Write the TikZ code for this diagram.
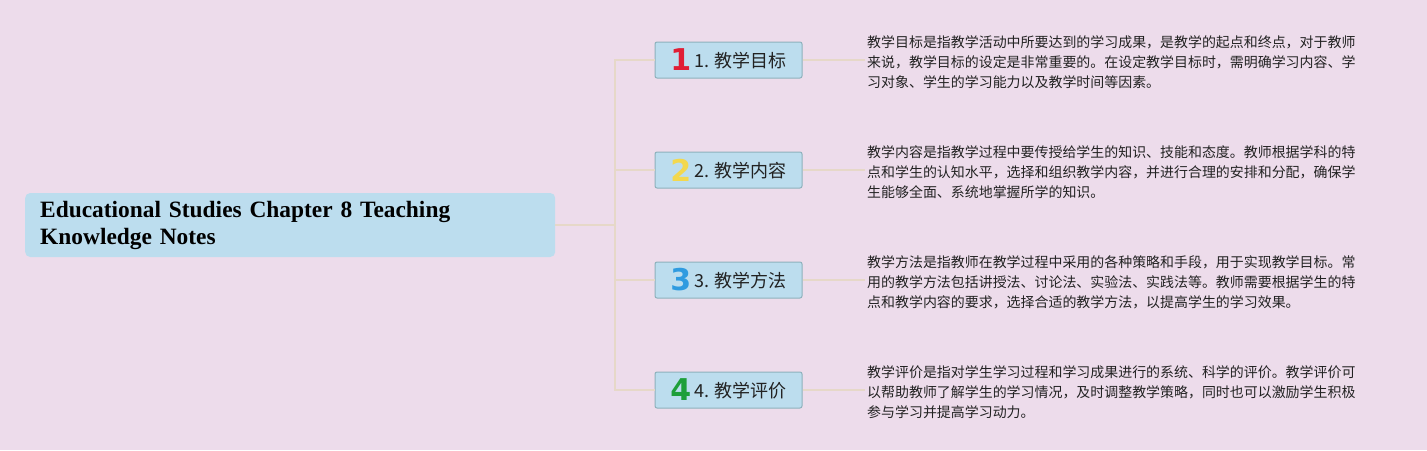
\documentclass[tikz,border=0pt]{standalone}
\usepackage{fontspec}
\setmainfont{Liberation Serif}
\newfontfamily\cjk{Noto Sans CJK SC}
\newfontfamily\digitf{DejaVu Sans}
\definecolor{bgc}{HTML}{EDDCEB}
\definecolor{boxfill}{HTML}{BCDDEE}
\definecolor{boxline}{HTML}{8DB1BC}
\definecolor{connc}{HTML}{E6D8C8}
\definecolor{numred}{HTML}{E01E35}
\definecolor{numyellow}{HTML}{F3D84E}
\definecolor{numblue}{HTML}{2F9BE0}
\definecolor{numgreen}{HTML}{1E9F3A}
\definecolor{txt}{HTML}{222222}
\newcommand{\rootfont}{\fontsize{23.4}{27}\selectfont\bfseries\spaceskip=0.22em plus 0.05em minus 0.05em\relax}
\tikzset{
  rootbox/.style={fill=boxfill, rounded corners=5pt, minimum width=530pt, minimum height=64pt, text width=500pt, align=left, inner xsep=15pt, anchor=west, font=\rootfont, text=black},
  topicbox/.style={fill=boxfill, draw=boxline, line width=1pt, rounded corners=2pt, minimum width=147pt, minimum height=36pt, inner sep=0pt, font=\cjk\fontsize{18}{20}\selectfont, text=txt},
  desc/.style={anchor=west, align=left, inner sep=2pt, font=\cjk\fontsize{13.95}{20}\selectfont, text=txt},
  conn/.style={draw=connc, line width=1.3pt}
}
\newcommand{\bignum}[2]{{\digitf\bfseries\fontsize{30}{30}\selectfont\raisebox{-3.5pt}{\textcolor{#1}{#2}}}\hspace{3pt}}
\begin{document}
\begin{tikzpicture}[x=1pt,y=-1pt]
\useasboundingbox[fill=bgc] (0,0) rectangle (1427,450);
\node[rootbox] (root) at (25,225) {\raisebox{-2.5pt}{Educational Studies Chapter 8 Teaching}\\[0pt]\raisebox{-2.5pt}{Knowledge Notes}};
\coordinate (hub) at (615,225);
\node[topicbox] (b1) at (728.5,60) {\bignum{numred}{1}1. 教学目标};
\node[topicbox] (b2) at (728.5,170) {\bignum{numyellow}{2}2. 教学内容};
\node[topicbox] (b3) at (728.5,280) {\bignum{numblue}{3}3. 教学方法};
\node[topicbox] (b4) at (728.5,390) {\bignum{numgreen}{4}4. 教学评价};
\node[desc] (d1) at (865,62) {教学目标是指教学活动中所要达到的学习成果，是教学的起点和终点，对于教师\\来说，教学目标的设定是非常重要的。在设定教学目标时，需明确学习内容、学\\习对象、学生的学习能力以及教学时间等因素。};
\node[desc] (d2) at (865,172) {教学内容是指教学过程中要传授给学生的知识、技能和态度。教师根据学科的特\\点和学生的认知水平，选择和组织教学内容，并进行合理的安排和分配，确保学\\生能够全面、系统地掌握所学的知识。};
\node[desc] (d3) at (865,282) {教学方法是指教师在教学过程中采用的各种策略和手段，用于实现教学目标。常\\用的教学方法包括讲授法、讨论法、实验法、实践法等。教师需要根据学生的特\\点和教学内容的要求，选择合适的教学方法，以提高学生的学习效果。};
\node[desc] (d4) at (865,392) {教学评价是指对学生学习过程和学习成果进行的系统、科学的评价。教学评价可\\以帮助教师了解学生的学习情况，及时调整教学策略，同时也可以激励学生积极\\参与学习并提高学习动力。};
\draw[conn] (root.east) -- (hub);
\draw[conn] (hub) |- (b1.west);
\draw[conn] (hub) |- (b2.west);
\draw[conn] (hub) |- (b3.west);
\draw[conn] (hub) |- (b4.west);
\draw[conn] (b1.east) -- (b1.east -| d1.west);
\draw[conn] (b2.east) -- (b2.east -| d2.west);
\draw[conn] (b3.east) -- (b3.east -| d3.west);
\draw[conn] (b4.east) -- (b4.east -| d4.west);
\end{tikzpicture}
\end{document}
